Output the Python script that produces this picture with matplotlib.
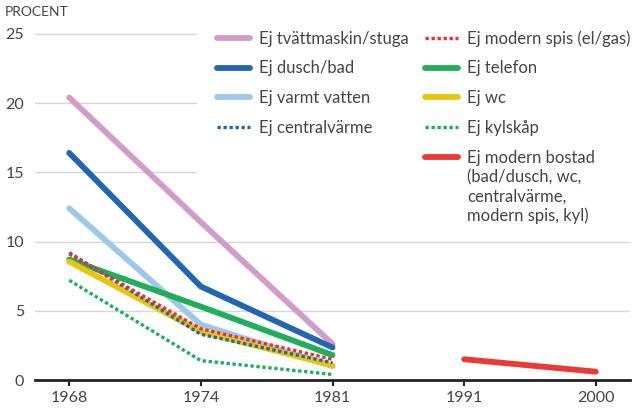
import matplotlib.pyplot as plt
from matplotlib.lines import Line2D

plt.rcParams["font.family"] = ["Lato", "DejaVu Sans"]

years = ["1968", "1974", "1981", "1991", "2000"]

tvatt = [20.4, 11.4, 2.6]
dusch = [16.4, 6.75, 2.35]
varmt = [12.4, 4.0, 1.0]
central = [9.2, 3.3, 1.25]
spis = [9.1, 3.7, 1.5]
telefon = [8.7, 5.3, 1.8]
wc = [8.55, 3.5, 1.05]
kyl = [7.2, 1.4, 0.4]
bostad = [1.5, 0.6]

yticks = [0, 5, 10, 15, 20, 25]
bostad_extra = "(bad/dusch, wc,\ncentralvärme,\nmodern spis, kyl)"
text_col = "#444444"

fig = plt.figure(figsize=(6.37, 4.08), dpi=100)
ax = fig.add_axes([35 / 637, 28 / 408, 595 / 637, (408 - 28 - 20) / 408])

x = list(range(len(years)))
xe = x[:3]
xl = x[3:]

lw = 4.2
dlw = 2.4
dots = (0, (1.0, 0.8))

ax.plot(xe, tvatt, color="#d29bc8", lw=lw, solid_capstyle="round", label="Ej tvättmaskin/stuga", zorder=3)
ax.plot(xe, dusch, color="#2166ae", lw=lw, solid_capstyle="round", label="Ej dusch/bad", zorder=4)
ax.plot(xe, varmt, color="#9dc8ea", lw=lw, solid_capstyle="round", label="Ej varmt vatten", zorder=3)
ax.plot(xe, telefon, color="#22ad5d", lw=lw, solid_capstyle="round", label="Ej telefon", zorder=3)
ax.plot(xe, wc, color="#e6c50a", lw=lw, solid_capstyle="round", label="Ej wc", zorder=3)
ax.plot(xe, central, color="#2166ae", lw=dlw, ls=dots, label="Ej centralvärme", zorder=5)
ax.plot(xe, spis, color="#ee3030", lw=dlw, ls=dots, label="Ej modern spis (el/gas)", zorder=5)
ax.plot(xe, kyl, color="#22ad5d", lw=dlw, ls=dots, label="Ej kylskåp", zorder=5)
ax.plot(xl, bostad, color="#e83a36", lw=lw, solid_capstyle="round", label="Ej modern bostad", zorder=3)

ax.set_xlim(-0.26, 4.26)
ax.set_ylim(0, 26)
ax.set_xticks(x)
ax.set_xticklabels(years)
ax.set_yticks(yticks)

for s in ["top", "right", "left"]:
    ax.spines[s].set_visible(False)
ax.spines["bottom"].set_linewidth(2)
ax.spines["bottom"].set_color("#222222")
ax.spines["bottom"].set_zorder(6)
ax.tick_params(axis="x", length=4, width=1.5, color="#222222", labelsize=11.5,
               labelcolor=text_col, pad=4)
ax.tick_params(axis="y", length=0, labelsize=11.5, labelcolor=text_col, pad=8)
ax.grid(axis="y", color="#d6d6d6", lw=1)
ax.set_axisbelow(True)

# legend: 4 entries + 2 blanks in column one, 5 entries in column two
handles, labels = ax.get_legend_handles_labels()
by_label = dict(zip(labels, handles))
blank = Line2D([], [], alpha=0)
order = ["Ej tvättmaskin/stuga", "Ej dusch/bad", "Ej varmt vatten", "Ej centralvärme", None, None,
         "Ej modern spis (el/gas)", "Ej telefon", "Ej wc", "Ej kylskåp", "Ej modern bostad"]
leg_h = [by_label[k] if k else blank for k in order]
leg_l = [k if k else " " for k in order]
leg = ax.legend(leg_h, leg_l, ncol=2, loc="upper left", bbox_to_anchor=(197 / 637, 1 - 10 / 408),
                bbox_transform=fig.transFigure, frameon=True, facecolor="white", edgecolor="none",
                framealpha=1, fontsize=12, handlelength=2.0, handletextpad=0.5,
                columnspacing=1.0, labelspacing=0.83, borderpad=1.2, borderaxespad=0)
for t in leg.get_texts():
    t.set_color(text_col)
leg.set_zorder(10)

fig.text(5 / 637, 1 - 12 / 408, "PROCENT", fontsize=10, color=text_col, va="center", ha="left")

# continuation lines of the last legend label, below its first line
fig.canvas.draw()
last = leg.get_texts()[-1]
bb = last.get_window_extent().transformed(fig.transFigure.inverted())
fig.text(bb.x0, bb.y0 - 3 / 408, bostad_extra, fontsize=12, color=text_col,
         va="top", ha="left", linespacing=1.25, zorder=11)

fig.savefig("out.png", dpi=100)
